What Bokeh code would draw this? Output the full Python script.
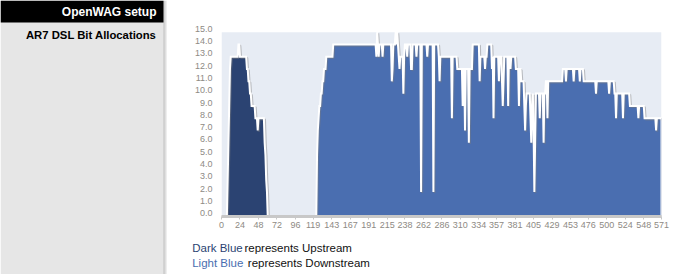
from bokeh.plotting import figure
from bokeh.layouts import row, column
from bokeh.models import (Range1d, FixedTicker, CustomJSTickFormatter,
                          ColumnDataSource, BoxAnnotation)
from bokeh.core.properties import value
from bokeh.transform import dodge
from bokeh.embed import file_html
from bokeh.resources import INLINE

# ---------------- data ----------------
x_tick_labels = [0, 24, 48, 72, 96, 119, 143, 167, 191, 215, 238, 262, 286,
                 310, 334, 357, 381, 405, 429, 453, 476, 500, 524, 548, 571]
y_ticks = list(range(16))
y_max = 15
n_tones = 572

# bits per tone, as (bits, number of consecutive tones)
upstream_runs = [
    (0, 8), (3, 1), (6, 1), (9, 1), (12, 1), (13, 10), (14, 2), (13, 9),
    (12, 2), (11, 2), (10, 2), (9, 5), (8, 3), (7, 1), (8, 8),
    (6, 1), (5, 1), (3, 1), (2, 1), (0, 1),
]
downstream_runs = [
    (0, 124), (5, 1), (7, 1), (8, 1), (9, 2), (10, 2), (11, 2), (12, 3), (13, 9), (14, 56),
    (13, 1), (15, 1), (14, 1), (13, 1), (14, 4), (13, 1), (14, 11), (11, 1), (12, 1),
    (14, 3), (15, 1), (14, 1), (15, 1), (14, 1), (13, 1), (12, 1), (13, 4), (10, 1),
    (13, 1), (14, 3), (13, 1), (14, 4), (12, 2), (14, 5), (13, 1), (14, 5), (2, 1),
    (14, 7), (13, 1), (14, 7), (2, 1), (14, 6), (13, 1), (11, 1), (13, 15), (8, 1),
    (13, 6), (12, 7), (9, 1), (12, 2), (7, 1), (12, 4), (6, 1), (12, 4), (14, 9),
    (11, 1), (13, 6), (12, 1), (13, 2), (14, 6), (12, 1), (13, 1), (8, 1), (13, 6),
    (11, 1), (13, 3), (11, 1), (9, 1), (11, 1), (13, 5), (9, 1), (13, 2), (12, 1),
    (13, 6), (12, 4), (9, 1), (12, 2), (11, 4), (9, 1), (7, 1), (9, 1), (10, 5),
    (8, 1), (6, 1), (9, 1), (10, 1), (7, 1), (2, 1), (6, 1), (10, 5), (8, 1), (10, 4),
    (6, 1), (10, 2), (11, 2), (8, 1), (11, 19), (12, 4), (11, 1), (12, 9), (11, 1),
    (12, 7), (11, 1), (12, 4), (11, 16), (10, 1), (11, 16), (10, 1), (11, 6), (10, 2),
    (8, 1), (10, 8), (8, 1), (10, 8), (9, 11), (8, 1), (9, 7), (8, 15), (7, 1), (8, 7),
]


def expand(runs):
    bits = [v for v, n in runs for _ in range(n)]
    bits = bits[:n_tones] + [0] * max(0, n_tones - len(bits))
    return bits


upstream_bits = expand(upstream_runs)
downstream_bits = expand(downstream_runs)


def outline(bits):
    nz = [i for i, b in enumerate(bits) if b > 0]
    i0 = max(nz[0] - 1, 0)
    i1 = min(nz[-1] + 1, len(bits) - 1)
    xs = list(range(i0, i1 + 1))
    ys = bits[i0:i1 + 1]
    if ys[-1] != 0:
        xs.append(xs[-1])
        ys.append(0)
    return dict(x=xs, y=ys)


# ---------------- style ----------------
FONT = "Liberation Sans"
UP_COLOR = "#2b4372"
DOWN_COLOR = "#4a6eb0"
BG = "#e7ecf4"
LABEL_COLOR = "#8e8a84"
LABEL_LIFT = 0.27          # tick labels sit a little above their gridlines

SIDE_W = 167
W, H_CHART, H_LEG = 679, 236, 38

# ---------------- chart ----------------
p = figure(width=W - SIDE_W, height=H_CHART, x_range=Range1d(0, n_tones - 1),
           y_range=Range1d(0, y_max + 0.3), output_backend="svg",
           toolbar_location=None, min_border_left=54, min_border_right=18,
           min_border_top=28, min_border_bottom=20)
p.frame_align = False
p.background_fill_color = "white"
p.border_fill_color = "white"
p.outline_line_color = None
p.add_layout(BoxAnnotation(bottom=0, top=y_max, fill_color=BG, fill_alpha=1,
                           line_color=None, level="underlay"))
p.xgrid.visible = False
p.ygrid.ticker = FixedTicker(ticks=y_ticks)
p.ygrid.grid_line_color = "white"
p.ygrid.grid_line_width = 1.5

p.yaxis.ticker = FixedTicker(ticks=[t + LABEL_LIFT for t in y_ticks])
p.yaxis.formatter = CustomJSTickFormatter(
    args=dict(lift=LABEL_LIFT), code="return (tick - lift).toFixed(1);")
p.yaxis.axis_line_color = None
p.yaxis.major_tick_line_color = None
p.yaxis.minor_tick_line_color = None
p.yaxis.major_tick_out = 0
p.yaxis.major_label_standoff = 9

p.xaxis.ticker = FixedTicker(ticks=x_tick_labels)
p.xaxis.axis_line_color = "#c8c8c8"
p.xaxis.axis_line_width = 3
p.xaxis.major_tick_line_color = "#c8c8c8"
p.xaxis.major_tick_out = 3
p.xaxis.major_tick_in = 0
p.xaxis.minor_tick_line_color = None
p.xaxis.major_label_standoff = 2

for ax in (p.xaxis, p.yaxis):
    ax.major_label_text_font = FONT
    ax.major_label_text_font_size = "9px"
    ax.major_label_text_color = LABEL_COLOR

for bits, color in ((upstream_bits, UP_COLOR), (downstream_bits, DOWN_COLOR)):
    src = ColumnDataSource(outline(bits))
    p.varea(x="x", y1=0, y2="y", source=src, fill_color=color)
    p.line(x=dodge("x", 1.3), y=dodge("y", -0.09), source=src,
           line_color="#7d7d7d", line_alpha=0.45, line_width=2.2)
    p.line(x="x", y="y", source=src, line_color="white", line_width=2,
           line_join="miter")

# ---------------- legend text below ----------------
leg = figure(width=W - SIDE_W, height=H_LEG, x_range=Range1d(SIDE_W, W),
             y_range=Range1d(H_CHART + H_LEG, H_CHART), output_backend="svg",
             toolbar_location=None, min_border=0)
leg.frame_align = False
leg.axis.visible = False
leg.grid.visible = False
leg.outline_line_color = None
leg.border_fill_color = "white"
leg.background_fill_color = "white"
LEG_SIZE = "11.5px"
leg.text(x=[191.7, 191.7], y=[247.7, 262.7], text=["Dark Blue", "Light Blue"],
         text_color=[UP_COLOR, DOWN_COLOR], text_font=value(FONT),
         text_font_size=LEG_SIZE, text_baseline="middle")
leg.text(x=[244, 247.3], y=[247.7, 262.7],
         text=["represents Upstream", "represents Downstream"],
         text_color="#111111", text_font=value(FONT), text_font_size=LEG_SIZE,
         text_baseline="middle")

# ---------------- sidebar ----------------
side = figure(width=SIDE_W, height=H_CHART + H_LEG, x_range=Range1d(0, SIDE_W),
              y_range=Range1d(H_CHART + H_LEG, 0), output_backend="svg",
              toolbar_location=None, min_border=0)
side.frame_align = False
side.axis.visible = False
side.grid.visible = False
side.outline_line_color = None
side.background_fill_color = "white"
side.border_fill_color = "white"
side.quad(left=[0], right=[163], top=[0], bottom=[H_CHART + H_LEG],
          fill_color="#e6e6e6", line_color=None)
side.quad(left=[163, 164, 165, 166], right=[164, 165, 166, 167],
          top=[0] * 4, bottom=[H_CHART + H_LEG] * 4,
          fill_color=["#b4b4b4", "#c8c8c8", "#dcdcdc", "#f0f0f0"], line_color=None)
side.quad(left=[0], right=[163], top=[0], bottom=[22], fill_color="black",
          line_color=None)
side.text(x=[156], y=[11.5], text=["OpenWAG setup"], text_color="white",
          text_font=value(FONT), text_font_size="12px", text_font_style="bold",
          text_align="right", text_baseline="middle")
side.text(x=[156], y=[34.5], text=["AR7 DSL Bit Allocations"], text_color="black",
          text_font=value(FONT), text_font_size="11.3px", text_font_style="bold",
          text_align="right", text_baseline="middle")

layout = row(side, column(p, leg, spacing=0), spacing=0)
open("out.html", "w").write(file_html(layout, INLINE))
